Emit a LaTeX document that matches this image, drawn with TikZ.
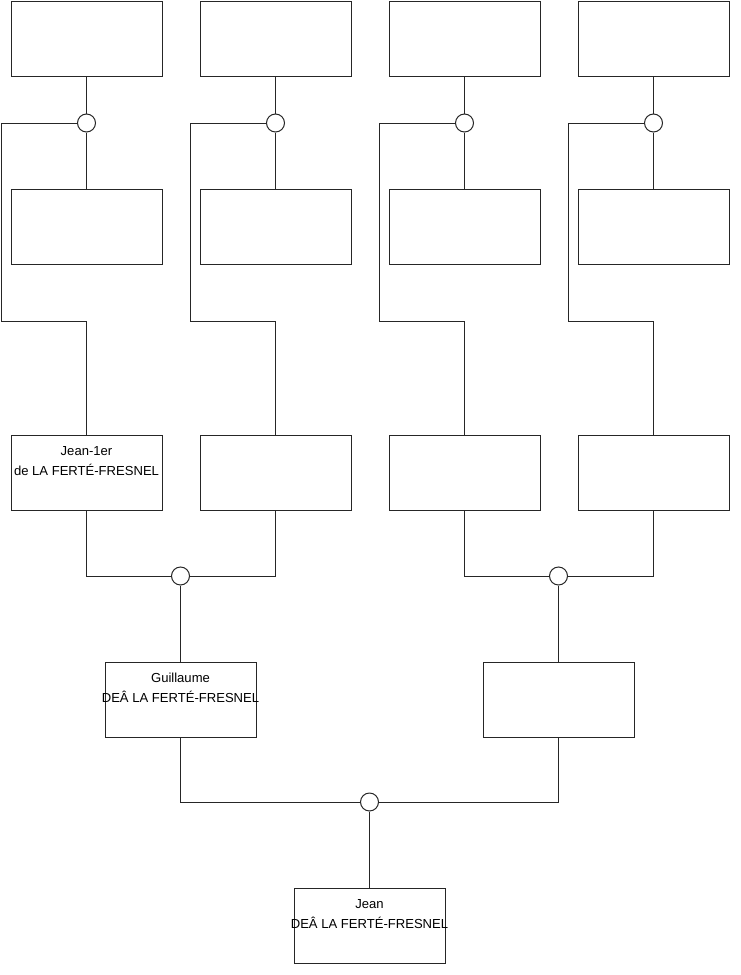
\documentclass[tikz,border=0pt]{standalone}
\usepackage{fontspec}
\setmainfont{Liberation Sans}
\usetikzlibrary{positioning}

\tikzset{
  box/.style={draw=black!85, line width=0.75pt, minimum width=151*0.75pt, minimum height=75*0.75pt, inner sep=0pt},
  knot/.style={draw=black!85, fill=white, line width=0.75pt, circle, minimum size=18*0.75pt, inner sep=0pt},
  name text/.style={align=center, inner sep=0pt, font=\fontsize{9.8}{15}\selectfont},
  link/.style={black!85, line width=0.75pt}
}

\begin{document}
\begin{tikzpicture}[x=0.75pt, y=-0.75pt]
            \useasboundingbox (0,0) rectangle (740,975);
            % four upper columns
            \foreach \i/\x in {1/86.5, 2/275.5, 3/464.5, 4/653.5} {
                \node[box] (top\i) at (\x,38.5) {};
                \node[box] (mid\i) at (\x,227) {};
                \node[box] (low\i) at (\x,472.5) {};
                \node[knot] (c\i) at (\x,123) {};
                \coordinate (k\i) at (\x-85.5,321);
                \draw[link] (top\i.south) -- (c\i.north);
                \draw[link] (c\i.south) -- (mid\i.north);
                \draw[link] (c\i.west) -| (k\i) -| (low\i.north);
            }
            % parents
            \node[knot] (d1) at (180.5,576) {};
            \node[knot] (d2) at (558.5,576) {};
            \node[box] (par1) at (180.5,699.5) {};
            \node[box] (par2) at (558.5,699.5) {};
            \draw[link] (low1.south) |- (d1.west);
            \draw[link] (low2.south) |- (d1.east);
            \draw[link] (low3.south) |- (d2.west);
            \draw[link] (low4.south) |- (d2.east);
            \draw[link] (d1.south) -- (par1.north);
            \draw[link] (d2.south) -- (par2.north);
            % child
            \node[knot] (e) at (369.5,802) {};
            \node[box] (child) at (369.5,925.5) {};
            \draw[link] (par1.south) |- (e.west);
            \draw[link] (par2.south) |- (e.east);
            \draw[link] (e.south) -- (child.north);
            % names
            \node[name text, below=8.5pt of low1.north] (jean1) {Jean-1er\\de LA FERTÉ-FRESNEL};
            \node[name text, below=8.5pt of par1.north] (guil) {Guillaume\\DEÂ LA FERTÉ-FRESNEL};
            \node[name text, below=8.5pt of child.north] (jean) {Jean\\DEÂ LA FERTÉ-FRESNEL};
        \end{tikzpicture}
\end{document}
